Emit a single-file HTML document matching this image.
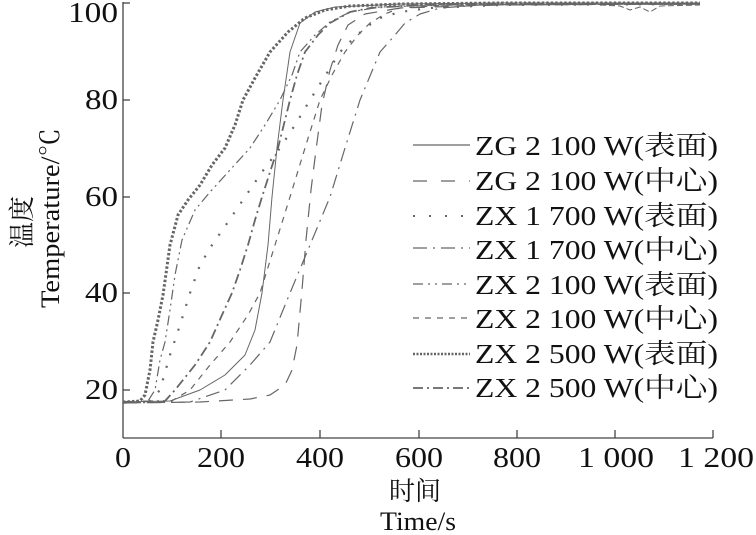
<!DOCTYPE html>
<html><head><meta charset="utf-8"><style>
html,body{margin:0;padding:0;background:#fff;}
svg{display:block;}
text{font-family:"Liberation Serif","Noto Serif CJK SC",serif;fill:#111;}
</style></head><body>
<svg width="756" height="535" viewBox="0 0 756 535" xmlns="http://www.w3.org/2000/svg">
<g stroke="#444" stroke-width="1.3" fill="none">
<line x1="123" y1="2" x2="123" y2="438"/>
<line x1="123" y1="438" x2="713" y2="438"/>
<line x1="123" y1="3" x2="130" y2="3"/>
<line x1="123" y1="100" x2="130" y2="100"/>
<line x1="123" y1="197" x2="130" y2="197"/>
<line x1="123" y1="293" x2="130" y2="293"/>
<line x1="123" y1="390" x2="130" y2="390"/>
<line x1="221" y1="438" x2="221" y2="430"/>
<line x1="320" y1="438" x2="320" y2="430"/>
<line x1="419" y1="438" x2="419" y2="430"/>
<line x1="517" y1="438" x2="517" y2="430"/>
<line x1="615" y1="438" x2="615" y2="430"/>
<line x1="713" y1="438" x2="713" y2="430"/>
</g>
<g font-size="28" text-anchor="end">
<text x="118" y="22" textLength="50" lengthAdjust="spacingAndGlyphs">100</text>
<text x="118" y="109" textLength="33" lengthAdjust="spacingAndGlyphs">80</text>
<text x="118" y="206" textLength="33" lengthAdjust="spacingAndGlyphs">60</text>
<text x="118" y="302" textLength="33" lengthAdjust="spacingAndGlyphs">40</text>
<text x="118" y="399" textLength="33" lengthAdjust="spacingAndGlyphs">20</text>
</g>
<g font-size="28" text-anchor="middle">
<text x="123" y="467" textLength="16" lengthAdjust="spacingAndGlyphs">0</text>
<text x="221" y="467" textLength="48" lengthAdjust="spacingAndGlyphs">200</text>
<text x="320" y="467" textLength="48" lengthAdjust="spacingAndGlyphs">400</text>
<text x="419" y="467" textLength="48" lengthAdjust="spacingAndGlyphs">600</text>
<text x="517" y="467" textLength="48" lengthAdjust="spacingAndGlyphs">800</text>
<text x="616" y="467" textLength="76" lengthAdjust="spacingAndGlyphs">1 000</text>
<text x="716" y="467" textLength="76" lengthAdjust="spacingAndGlyphs">1 200</text>
<text x="415" y="500" font-size="26">时间</text>
<text x="418" y="530" font-size="26" textLength="76" lengthAdjust="spacingAndGlyphs">Time/s</text>
</g>
<text transform="translate(31,222) rotate(-90)" font-size="26" text-anchor="middle">温度</text>
<text transform="translate(59,218) rotate(-90)" font-size="26" text-anchor="middle" textLength="180" lengthAdjust="spacingAndGlyphs">Temperature/℃</text>

<g fill="none" stroke="#666" stroke-linejoin="round">
<polyline stroke-width="1" points="123,402 170,401 200,390 225,375 245,355 255,330 262,293 268,245 272,197 277,148 283,100 290,52 300,23 315,12 335,7 400,4 500,3 700,3"/>
<polyline stroke-width="1.2" stroke-dasharray="14,10" points="123,403 200,402 250,399 270,395 285,385 292,370 297,345 302,290 306,240 311,190 316,150 322,105 330,70 338,45 348,25 365,14 400,8 500,5 700,4"/>
<polyline stroke-width="2.2" stroke-dasharray="2,11" points="123,402 150,401 160,390 170,355 180,325 190,293 200,265 212,245 228,222 245,197 262,172 280,148 295,125 310,100 325,76 340,52 352,40 365,28 380,18 400,12 430,8 500,5 700,4"/>
<polyline stroke-width="1.2" stroke-dasharray="14,6,2,6" points="123,403 190,402 225,390 250,365 270,342 290,293 310,245 330,197 345,148 360,100 380,52 395,35 405,23 420,14 440,8 480,5 550,4 700,4"/>
<polyline stroke-width="1.2" stroke-dasharray="10,4,2,4,2,4" points="123,402 148,401 155,390 160,360 165,342 170,310 175,275 182,240 195,210 210,192 230,170 250,148 265,125 280,100 292,75 300,52 315,35 330,22 350,12 380,7 450,5 700,4"/>
<polyline stroke-width="1.2" stroke-dasharray="6,6" points="123,403 170,402 190,390 210,365 230,342 248,315 260,293 275,245 290,197 305,148 320,100 332,75 345,52 358,35 370,23 385,14 400,8 450,5 700,4"/>
<polyline stroke-width="3" stroke-dasharray="2.5,2" points="123,402 140,401 145,395 150,370 153,342 158,320 163,295 170,245 178,215 188,200 200,185 212,165 225,148 235,125 243,100 255,78 270,52 288,32 305,18 325,10 350,6 400,4 500,3 700,3"/>
<polyline stroke-width="1.8" stroke-dasharray="10,4,2,4" points="123,402 165,401 175,390 195,365 210,342 222,315 232,293 240,270 248,245 255,220 262,197 270,172 278,148 285,120 290,100 297,75 305,52 318,35 330,23 350,12 370,8 420,5 500,4 700,4"/>
<polyline stroke-width="1" stroke-dasharray="6,3" points="600,5 620,6 630,10 640,7 650,12 660,6 700,5"/>
</g>

<g stroke="#666" stroke-width="1.3" fill="none">
<line x1="413" y1="145" x2="470" y2="145"/>
<line x1="413" y1="181" x2="470" y2="181" stroke-dasharray="14,14"/>
<line x1="413" y1="216" x2="470" y2="216" stroke-width="2" stroke-dasharray="2,14"/>
<line x1="413" y1="248" x2="470" y2="248" stroke-dasharray="14,6,2,6"/>
<line x1="413" y1="284" x2="470" y2="284" stroke-dasharray="10,5,2,5,2,5"/>
<line x1="413" y1="318" x2="470" y2="318" stroke-dasharray="6,6"/>
<line x1="413" y1="354" x2="470" y2="354" stroke-width="2.5" stroke-dasharray="2,1.5"/>
<line x1="413" y1="388" x2="470" y2="388" stroke-width="1.8" stroke-dasharray="10,4,2,4"/>
</g>
<g font-size="27">
<text x="475" y="155" textLength="243" lengthAdjust="spacingAndGlyphs">ZG 2 100 W(表面)</text>
<text x="475" y="190" textLength="243" lengthAdjust="spacingAndGlyphs">ZG 2 100 W(中心)</text>
<text x="475" y="225" textLength="243" lengthAdjust="spacingAndGlyphs">ZX 1 700 W(表面)</text>
<text x="475" y="259" textLength="243" lengthAdjust="spacingAndGlyphs">ZX 1 700 W(中心)</text>
<text x="475" y="294" textLength="243" lengthAdjust="spacingAndGlyphs">ZX 2 100 W(表面)</text>
<text x="475" y="328" textLength="243" lengthAdjust="spacingAndGlyphs">ZX 2 100 W(中心)</text>
<text x="475" y="363" textLength="243" lengthAdjust="spacingAndGlyphs">ZX 2 500 W(表面)</text>
<text x="475" y="397" textLength="243" lengthAdjust="spacingAndGlyphs">ZX 2 500 W(中心)</text>
</g>
</svg>
</body></html>
